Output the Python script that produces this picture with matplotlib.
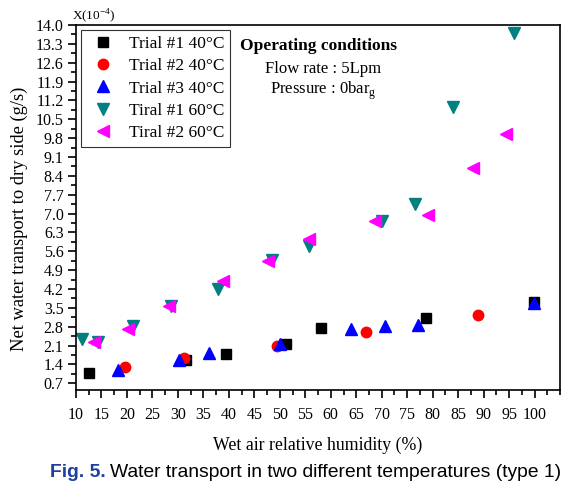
import matplotlib
matplotlib.use("Agg")
import matplotlib.pyplot as plt
from matplotlib.ticker import MultipleLocator, FormatStrFormatter

# Data (values in units of 1e-4 g/s)
t1_40_x = [12.6, 31.6, 39.4, 51.2, 58.0, 78.6, 99.8]
t1_40_y = [1.07, 1.55, 1.77, 2.14, 2.77, 3.14, 3.73]
t2_40_x = [19.6, 31.2, 49.4, 66.9, 88.8]
t2_40_y = [1.29, 1.63, 2.10, 2.62, 3.25]
t3_40_x = [18.2, 30.2, 36.1, 50.0, 63.9, 70.6, 77.1, 99.8]
t3_40_y = [1.18, 1.55, 1.81, 2.14, 2.70, 2.81, 2.85, 3.69]
t1_60_x = [11.2, 14.3, 21.2, 28.6, 37.8, 48.4, 55.7, 70.0, 76.5, 83.9, 95.9]
t1_60_y = [2.33, 2.22, 2.84, 3.55, 4.21, 5.28, 5.80, 6.72, 7.35, 10.97, 13.70]
t2_60_x = [13.5, 20.2, 28.3, 38.9, 47.6, 55.7, 68.6, 79.0, 88.0, 94.3]
t2_60_y = [2.25, 2.73, 3.58, 4.51, 5.25, 6.06, 6.72, 6.94, 8.68, 9.97]

labels = ["Trial #1 40\u00b0C", "Trial #2 40\u00b0C", "Trial #3 40\u00b0C",
          "Tiral #1 60\u00b0C", "Tiral #2 60\u00b0C"]

serif = "Liberation Serif"
plt.rcParams['font.family'] = [serif, 'DejaVu Serif']

fig = plt.figure(figsize=(5.78, 4.94), dpi=100)
ax = fig.add_axes([0.1315, 0.2105, 0.8375, 0.739])

ax.plot(t1_40_x, t1_40_y, 's', color='black', ms=6.5, ls='none', label=labels[0])
ax.plot(t2_40_x, t2_40_y, 'o', color='#ff0000', ms=7.5, ls='none', label=labels[1])
ax.plot(t3_40_x, t3_40_y, '^', color='#0000ff', ms=8.5, ls='none', label=labels[2])
ax.plot(t1_60_x, t1_60_y, 'v', color='#008080', ms=8.5, ls='none', label=labels[3])
ax.plot(t2_60_x, t2_60_y, '<', color='#ff00ff', ms=8.5, ls='none', label=labels[4])

ax.set_xlim(10, 105)
ax.set_ylim(0.45, 14.0)
ax.set_xticks([10 + 5 * i for i in range(19)])
ax.xaxis.set_minor_locator(MultipleLocator(2.5))
ax.yaxis.set_major_locator(MultipleLocator(0.7))
ax.yaxis.set_minor_locator(MultipleLocator(0.35))
ax.yaxis.set_major_formatter(FormatStrFormatter('%.1f'))

ax.tick_params(which='both', direction='out', top=False, right=False, labelsize=11.5, width=1.2)
ax.tick_params(which='major', length=6)
ax.tick_params(which='minor', length=3.5)
ax.tick_params(axis='x', pad=6)
ax.tick_params(axis='y', pad=3)
for s in ax.spines.values():
    s.set_linewidth(1.2)

ax.set_xlabel("Wet air relative humidity (%)", fontsize=12.8, labelpad=10)
ax.set_ylabel("Net water transport to dry side (g/s)", fontsize=13.3)
ax.yaxis.set_label_coords(-0.099, 0.468)

leg = ax.legend(loc='upper left', bbox_to_anchor=(0.003, 0.997), fontsize=12.5,
                frameon=True, fancybox=False, edgecolor='black', handletextpad=0.6,
                labelspacing=0.36, borderpad=0.35, handlelength=1.8, numpoints=1,
                borderaxespad=0.2)
leg.get_frame().set_linewidth(0.8)

ax.text(0.50, 0.942, "Operating conditions", transform=ax.transAxes, ha='center',
        va='center', fontsize=12.5, fontweight='bold')
ax.text(0.51, 0.88, "Flow rate : 5Lpm", transform=ax.transAxes, ha='center',
        va='center', fontsize=12)
ax.text(0.51, 0.818, "Pressure : 0bar$_{\\mathregular{g}}$", transform=ax.transAxes, ha='center',
        va='center', fontsize=12)

fig.text(72 / 578, 1 - 16 / 494, "X(10$^{\\mathregular{-4}}$)", ha='left', va='center', fontsize=9.5)

t1 = fig.text(50 / 578, 1 - 472 / 494, "Fig. 5.", color='#1f3f9f', fontweight='bold',
              fontsize=13.85, family='Liberation Sans', ha='left', va='center')
fig.canvas.draw()
bb = t1.get_window_extent()
x2 = (bb.x1 + 4) / fig.bbox.width
fig.text(x2, 1 - 472 / 494, "Water transport in two different temperatures (type 1)",
         color='black', fontsize=13.85, family='Liberation Sans', ha='left', va='center')

fig.savefig("out.png", dpi=100)
